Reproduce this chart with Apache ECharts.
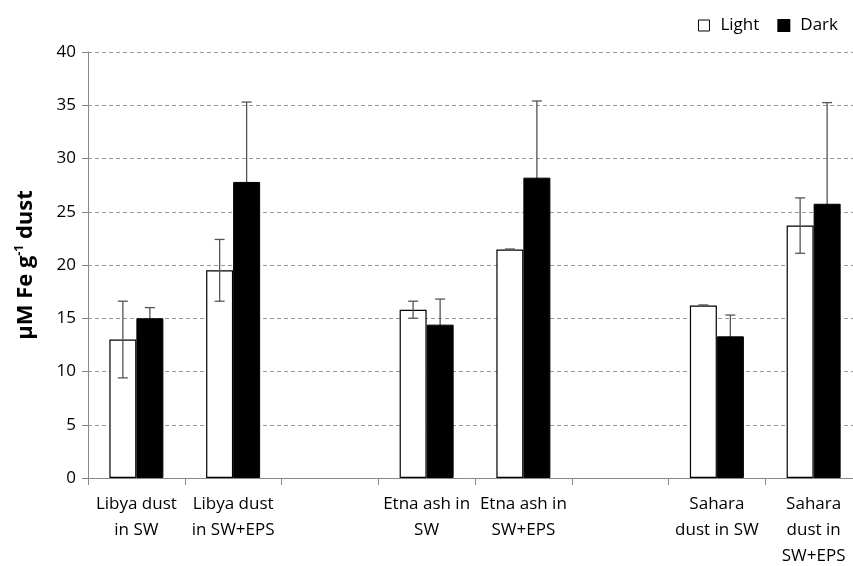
<!DOCTYPE html>
<html>
<head>
<meta charset="utf-8">
<script src="https://cdn.jsdelivr.net/npm/echarts@6/dist/echarts.min.js"></script>
<style>
  html, body { margin: 0; padding: 0; background: #fff; }
  #chart { width: 853px; height: 566px; }
</style>
</head>
<body>
<div id="chart"></div>
<script>
// data
var categories = ['Libya dust\nin SW', 'Libya dust\nin SW+EPS', '', 'Etna ash in\nSW', 'Etna ash in\nSW+EPS', '', 'Sahara\ndust in SW', 'Sahara\ndust in\nSW+EPS'];
var lightVals = [13.0, 19.5, null, 15.8, 21.45, null, 16.2, 23.7];
var lightErr = [3.6, 2.9, null, 0.8, 0.05, null, 0.05, 2.6];
var darkVals = [15.0, 27.8, null, 14.4, 28.2, null, 13.3, 25.75];
var darkErr = [1.0, 7.5, null, 2.4, 7.2, null, 2.0, 9.5];
var yTicks = [0, 5, 10, 15, 20, 25, 30, 35, 40];

var font = '"Open Sans", sans-serif';
var barW = 27;

//error bar points: [index, value, err]
var errPoints = function (vals, errs) {
    var out = [];
    vals.forEach(function (v, i) {
        if (v != null) out.push([i, v, errs[i]]);
    });
    return out;
};

var errRender = function (offset) {
    return function (params, api) {
        var x = api.coord([api.value(0), 0])[0] + offset;
        var v = api.value(1), e = api.value(2);
        var top = api.coord([api.value(0), v + e])[1];
        var bot = api.coord([api.value(0), v - e])[1];
        var st = { stroke: '#555', lineWidth: 1.3 };
        return {
            type: 'group',
            children: [
                { type: 'line', shape: { x1: x, y1: top, x2: x, y2: bot }, style: st },
                { type: 'line', shape: { x1: x - 5, y1: top, x2: x + 5, y2: top }, style: st },
                { type: 'line', shape: { x1: x - 5, y1: bot, x2: x + 5, y2: bot }, style: st }
            ]
        };
    };
};

var chart = echarts.init(document.getElementById('chart'));
chart.setOption({
    animation: false,
    textStyle: { fontFamily: font },
    legend: {
        top: 12,
        right: 10,
        itemWidth: 11,
        itemHeight: 11,
        itemGap: 18,
        textStyle: { fontFamily: font, fontSize: 17, color: '#000', padding: [0, 0, 0, 6] },
        data: [
            { name: 'Light', icon: 'rect', itemStyle: { color: '#fff', borderColor: '#000', borderWidth: 1 } },
            { name: 'Dark', icon: 'rect', itemStyle: { color: '#000' } }
        ]
    },
    grid: { left: 88, top: 52, width: 774, bottom: 88, containLabel: false, outerBoundsMode: 'none' },
    xAxis: {
        type: 'category',
        data: categories,
        axisLine: { lineStyle: { color: '#888', width: 1 } },
        axisTick: { show: true, length: 7, lineStyle: { color: '#888' } },
        axisLabel: { color: '#000', fontSize: 17, lineHeight: 26, margin: 13, interval: 0, fontFamily: font }
    },
    yAxis: {
        type: 'value',
        min: yTicks[0],
        max: yTicks[yTicks.length - 1],
        interval: 5,
        name: '{a|µM Fe g}{s|-1}{a| dust}',
        nameLocation: 'middle',
        nameGap: 50,
        nameTextStyle: {
            rich: {
                a: { fontSize: 22, fontWeight: 'bold', color: '#000', fontFamily: font },
                s: { fontSize: 12, fontWeight: 'bold', color: '#000', fontFamily: font, verticalAlign: 'top', padding: [0, 0, 12, 0] }
            }
        },
        axisLine: { show: true, lineStyle: { color: '#888' } },
        axisTick: { show: true, length: 6, lineStyle: { color: '#888' } },
        axisLabel: { color: '#000', fontSize: 17, margin: 12, fontFamily: font },
        splitLine: { lineStyle: { color: '#999', type: [4, 3], width: 1 } }
    },
    series: [
        {
            name: 'Light',
            type: 'bar',
            barWidth: barW,
            barGap: '0%',
            data: lightVals,
            itemStyle: { color: '#fff', borderColor: '#000', borderWidth: 1.2 },
            z: 2
        },
        {
            name: 'Dark',
            type: 'bar',
            barWidth: barW,
            barGap: '0%',
            data: darkVals,
            itemStyle: { color: '#000', borderColor: '#000', borderWidth: 1 },
            z: 2
        },
        {
            type: 'custom',
            renderItem: errRender(-barW / 2),
            data: errPoints(lightVals, lightErr),
            encode: { x: 0, y: 1 },
            z: 3,
            silent: true
        },
        {
            type: 'custom',
            renderItem: errRender(barW / 2),
            data: errPoints(darkVals, darkErr),
            encode: { x: 0, y: 1 },
            z: 1,
            silent: true
        }
    ]
});
</script>
</body>
</html>
